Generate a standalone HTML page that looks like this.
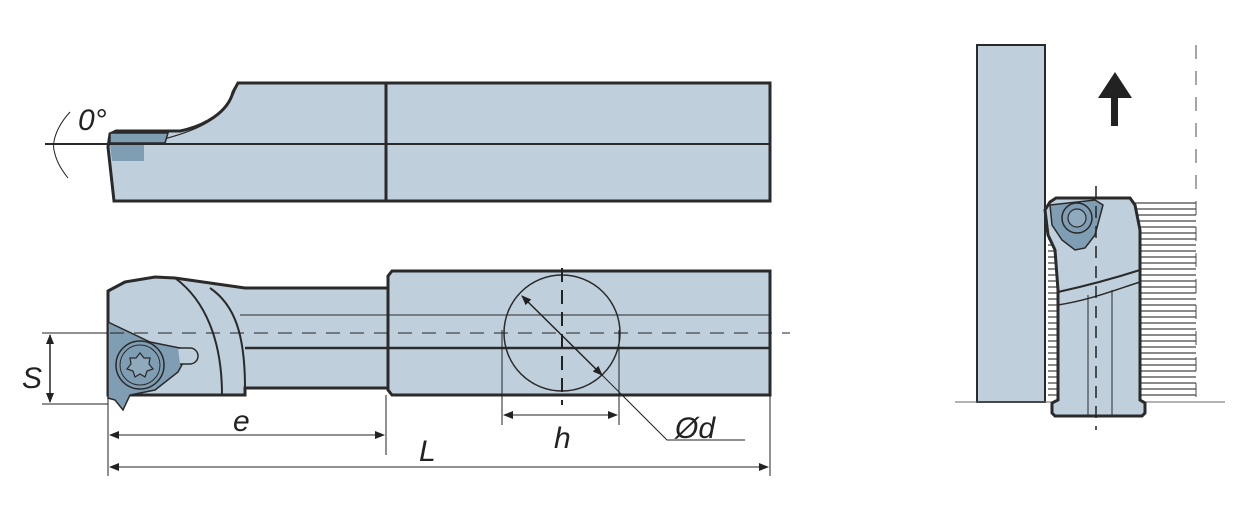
<!DOCTYPE html>
<html><head><meta charset="utf-8"><style>body{margin:0;background:#fff}svg{display:block}text{font-family:"Liberation Sans",sans-serif;font-style:italic;fill:#222}</style></head>
<body>
<svg width="1257" height="522" viewBox="0 0 1257 522" xmlns="http://www.w3.org/2000/svg">
<defs>
<marker id="a" markerWidth="10" markerHeight="8" refX="9" refY="4" orient="auto-start-reverse" markerUnits="userSpaceOnUse"><path d="M0,0 L10,4 L0,8 Z" fill="#222"/></marker>
</defs>
<g stroke="#2a2a2a" fill="#bfd0dc">
<path d="M114,201 L108,147 L110,134 L116,131 L180,131 C205,126 228,112 233,92 L238,83 L770,83 L770,201 Z" stroke-width="3"/>
<path d="M160,140 C200,130 225,118 236,88" fill="none" stroke-width="1.2"/>
<line x1="386" y1="83" x2="386" y2="201" stroke-width="3"/>
<line x1="45" y1="144" x2="770" y2="144" stroke-width="2"/>
<path d="M110,133 L168,133 L165,143 L110,143 Z" fill="#7f9db3" stroke-width="1.5"/>
<path d="M110,145 L144,145 L144,161 L112,161 Z" fill="#7f9db3" stroke="none"/>
<path d="M108,291 L125,282 L155,277 L175,278 L245,288 L388,288 L388,388 L245,388 L245,395 L108,395 Z" stroke-width="3"/>
<path d="M388,276 L392,271 L770,271 L770,395 L392,395 L388,390 Z" stroke-width="3"/>
<path d="M175,278 C205,300 222,340 222,395" fill="none" stroke-width="2"/>
<path d="M210,288 C235,305 245,335 245,388" fill="none" stroke-width="2"/>
<line x1="240" y1="315" x2="770" y2="315" stroke-width="1"/>
<line x1="245" y1="348" x2="770" y2="348" stroke-width="2.5"/>
<path d="M108,322 L150,342 L190,350 L178,372 L155,390 L130,395 L123,410 L115,400 L108,398 Z" fill="#7f9db3" stroke-width="1.5"/>
<path d="M178,348 L190,348 A8,8 0 0 1 190,364 L180,364" fill="#bfd0dc" stroke-width="1.5"/>
<circle cx="140" cy="365" r="24" fill="#7f9db3" stroke-width="1.5"/>
<circle cx="140" cy="365" r="20" fill="none" stroke-width="1"/>
<path d="M140,353 l4,5 6,0 -1,6 4,5 -6,2 -2,6 -5,-3 -5,3 -2,-6 -6,-2 4,-5 -1,-6 6,0 z" fill="#8fa9bd" stroke-width="1.2"/>
<circle cx="562" cy="333" r="58" fill="none" stroke-width="1.5"/>
</g>
<g stroke="#222" fill="none" stroke-width="1">
<line x1="110" y1="333" x2="790" y2="333" stroke-dasharray="14,10"/>
<line x1="562" y1="268" x2="562" y2="405" stroke-dasharray="14,8" stroke-width="2"/>
<path d="M70,112 C58,125 52,140 54,150 C56,160 60,168 68,178"/>
<line x1="42" y1="333" x2="108" y2="333"/>
<line x1="42" y1="404" x2="108" y2="404"/>
<line x1="50" y1="335" x2="50" y2="402" marker-start="url(#a)" marker-end="url(#a)" stroke-width="1.5"/>
<line x1="108" y1="398" x2="108" y2="476"/>
<line x1="386" y1="395" x2="386" y2="455"/>
<line x1="770" y1="395" x2="770" y2="476"/>
<line x1="110" y1="435" x2="384" y2="435" marker-start="url(#a)" marker-end="url(#a)"/>
<line x1="110" y1="467" x2="768" y2="467" marker-start="url(#a)" marker-end="url(#a)"/>
<line x1="502" y1="330" x2="502" y2="425"/>
<line x1="619" y1="330" x2="619" y2="425"/>
<line x1="504" y1="415" x2="617" y2="415" marker-start="url(#a)" marker-end="url(#a)"/>
<line x1="522" y1="296" x2="602" y2="375" marker-start="url(#a)" marker-end="url(#a)" stroke-width="1.5"/>
<polyline points="600,373 667,440 745,440"/>
</g>
<text x="78" y="130" font-size="30">0°</text>
<text x="22" y="388" font-size="30">S</text>
<text x="233" y="431" font-size="30">e</text>
<text x="419" y="461" font-size="30">L</text>
<text x="554" y="448" font-size="30">h</text>
<text x="675" y="438" font-size="30">Ød</text>
<g stroke="#2a2a2a">
<rect x="977" y="45" width="68" height="357" fill="#bfd0dc" stroke-width="2"/>
<line x1="1196" y1="45" x2="1196" y2="400" stroke="#888" stroke-width="1.5" stroke-dasharray="14,12"/>
<line x1="955" y1="402" x2="1225" y2="402" stroke="#666" stroke-width="1"/>
<polygon points="1098,98 1115,72 1132,98" fill="#222" stroke="none"/>
<rect x="1111" y="96" width="7" height="30" fill="#222" stroke="none"/>
<g stroke="#444" stroke-width="1.2">
<line x1="1048" y1="203" x2="1196" y2="203"/><line x1="1048" y1="209" x2="1196" y2="209"/><line x1="1048" y1="215" x2="1196" y2="215"/><line x1="1048" y1="221" x2="1196" y2="221"/><line x1="1048" y1="227" x2="1196" y2="227"/><line x1="1048" y1="233" x2="1196" y2="233"/><line x1="1048" y1="239" x2="1196" y2="239"/><line x1="1048" y1="245" x2="1196" y2="245"/><line x1="1048" y1="251" x2="1196" y2="251"/><line x1="1048" y1="257" x2="1196" y2="257"/><line x1="1048" y1="263" x2="1196" y2="263"/><line x1="1048" y1="269" x2="1196" y2="269"/><line x1="1048" y1="275" x2="1196" y2="275"/><line x1="1048" y1="281" x2="1196" y2="281"/><line x1="1048" y1="287" x2="1196" y2="287"/><line x1="1048" y1="293" x2="1196" y2="293"/><line x1="1048" y1="299" x2="1196" y2="299"/><line x1="1048" y1="305" x2="1196" y2="305"/><line x1="1048" y1="311" x2="1196" y2="311"/><line x1="1048" y1="317" x2="1196" y2="317"/><line x1="1048" y1="323" x2="1196" y2="323"/><line x1="1048" y1="329" x2="1196" y2="329"/><line x1="1048" y1="335" x2="1196" y2="335"/><line x1="1048" y1="341" x2="1196" y2="341"/><line x1="1048" y1="347" x2="1196" y2="347"/><line x1="1048" y1="353" x2="1196" y2="353"/><line x1="1048" y1="359" x2="1196" y2="359"/><line x1="1048" y1="365" x2="1196" y2="365"/><line x1="1048" y1="371" x2="1196" y2="371"/><line x1="1048" y1="377" x2="1196" y2="377"/><line x1="1048" y1="383" x2="1196" y2="383"/><line x1="1048" y1="389" x2="1196" y2="389"/><line x1="1048" y1="395" x2="1196" y2="395"/>
</g>
<path d="M1050,202 L1056,198 L1130,198 L1135,205 L1140,230 L1140,400 L1145,403 L1145,413 L1142,416 L1055,416 L1052,413 L1052,403 L1058,400 L1058,290 L1055,250 L1048,235 L1045,210 Z" fill="#bfd0dc" stroke-width="3"/>
<path d="M1058,292 C1090,285 1115,278 1140,270" fill="none" stroke-width="2"/>
<path d="M1058,305 C1090,300 1115,290 1140,282" fill="none" stroke-width="1.5"/>
<line x1="1088" y1="295" x2="1088" y2="416" stroke-width="1"/>
<line x1="1112" y1="290" x2="1112" y2="416" stroke-width="1"/>
<path d="M1050,205 L1095,200 L1103,205 L1095,235 L1085,248 L1075,250 L1062,240 L1052,225 Z" fill="#7f9db3" stroke-width="1.5"/>
<circle cx="1077" cy="218" r="15" fill="#7f9db3" stroke-width="1.5"/>
<circle cx="1077" cy="218" r="9" fill="#8fa9bd" stroke-width="1.2"/>
<line x1="1096" y1="186" x2="1096" y2="430" stroke="#222" stroke-width="1.5" stroke-dasharray="12,8"/>
</g>
</svg>
</body></html>
